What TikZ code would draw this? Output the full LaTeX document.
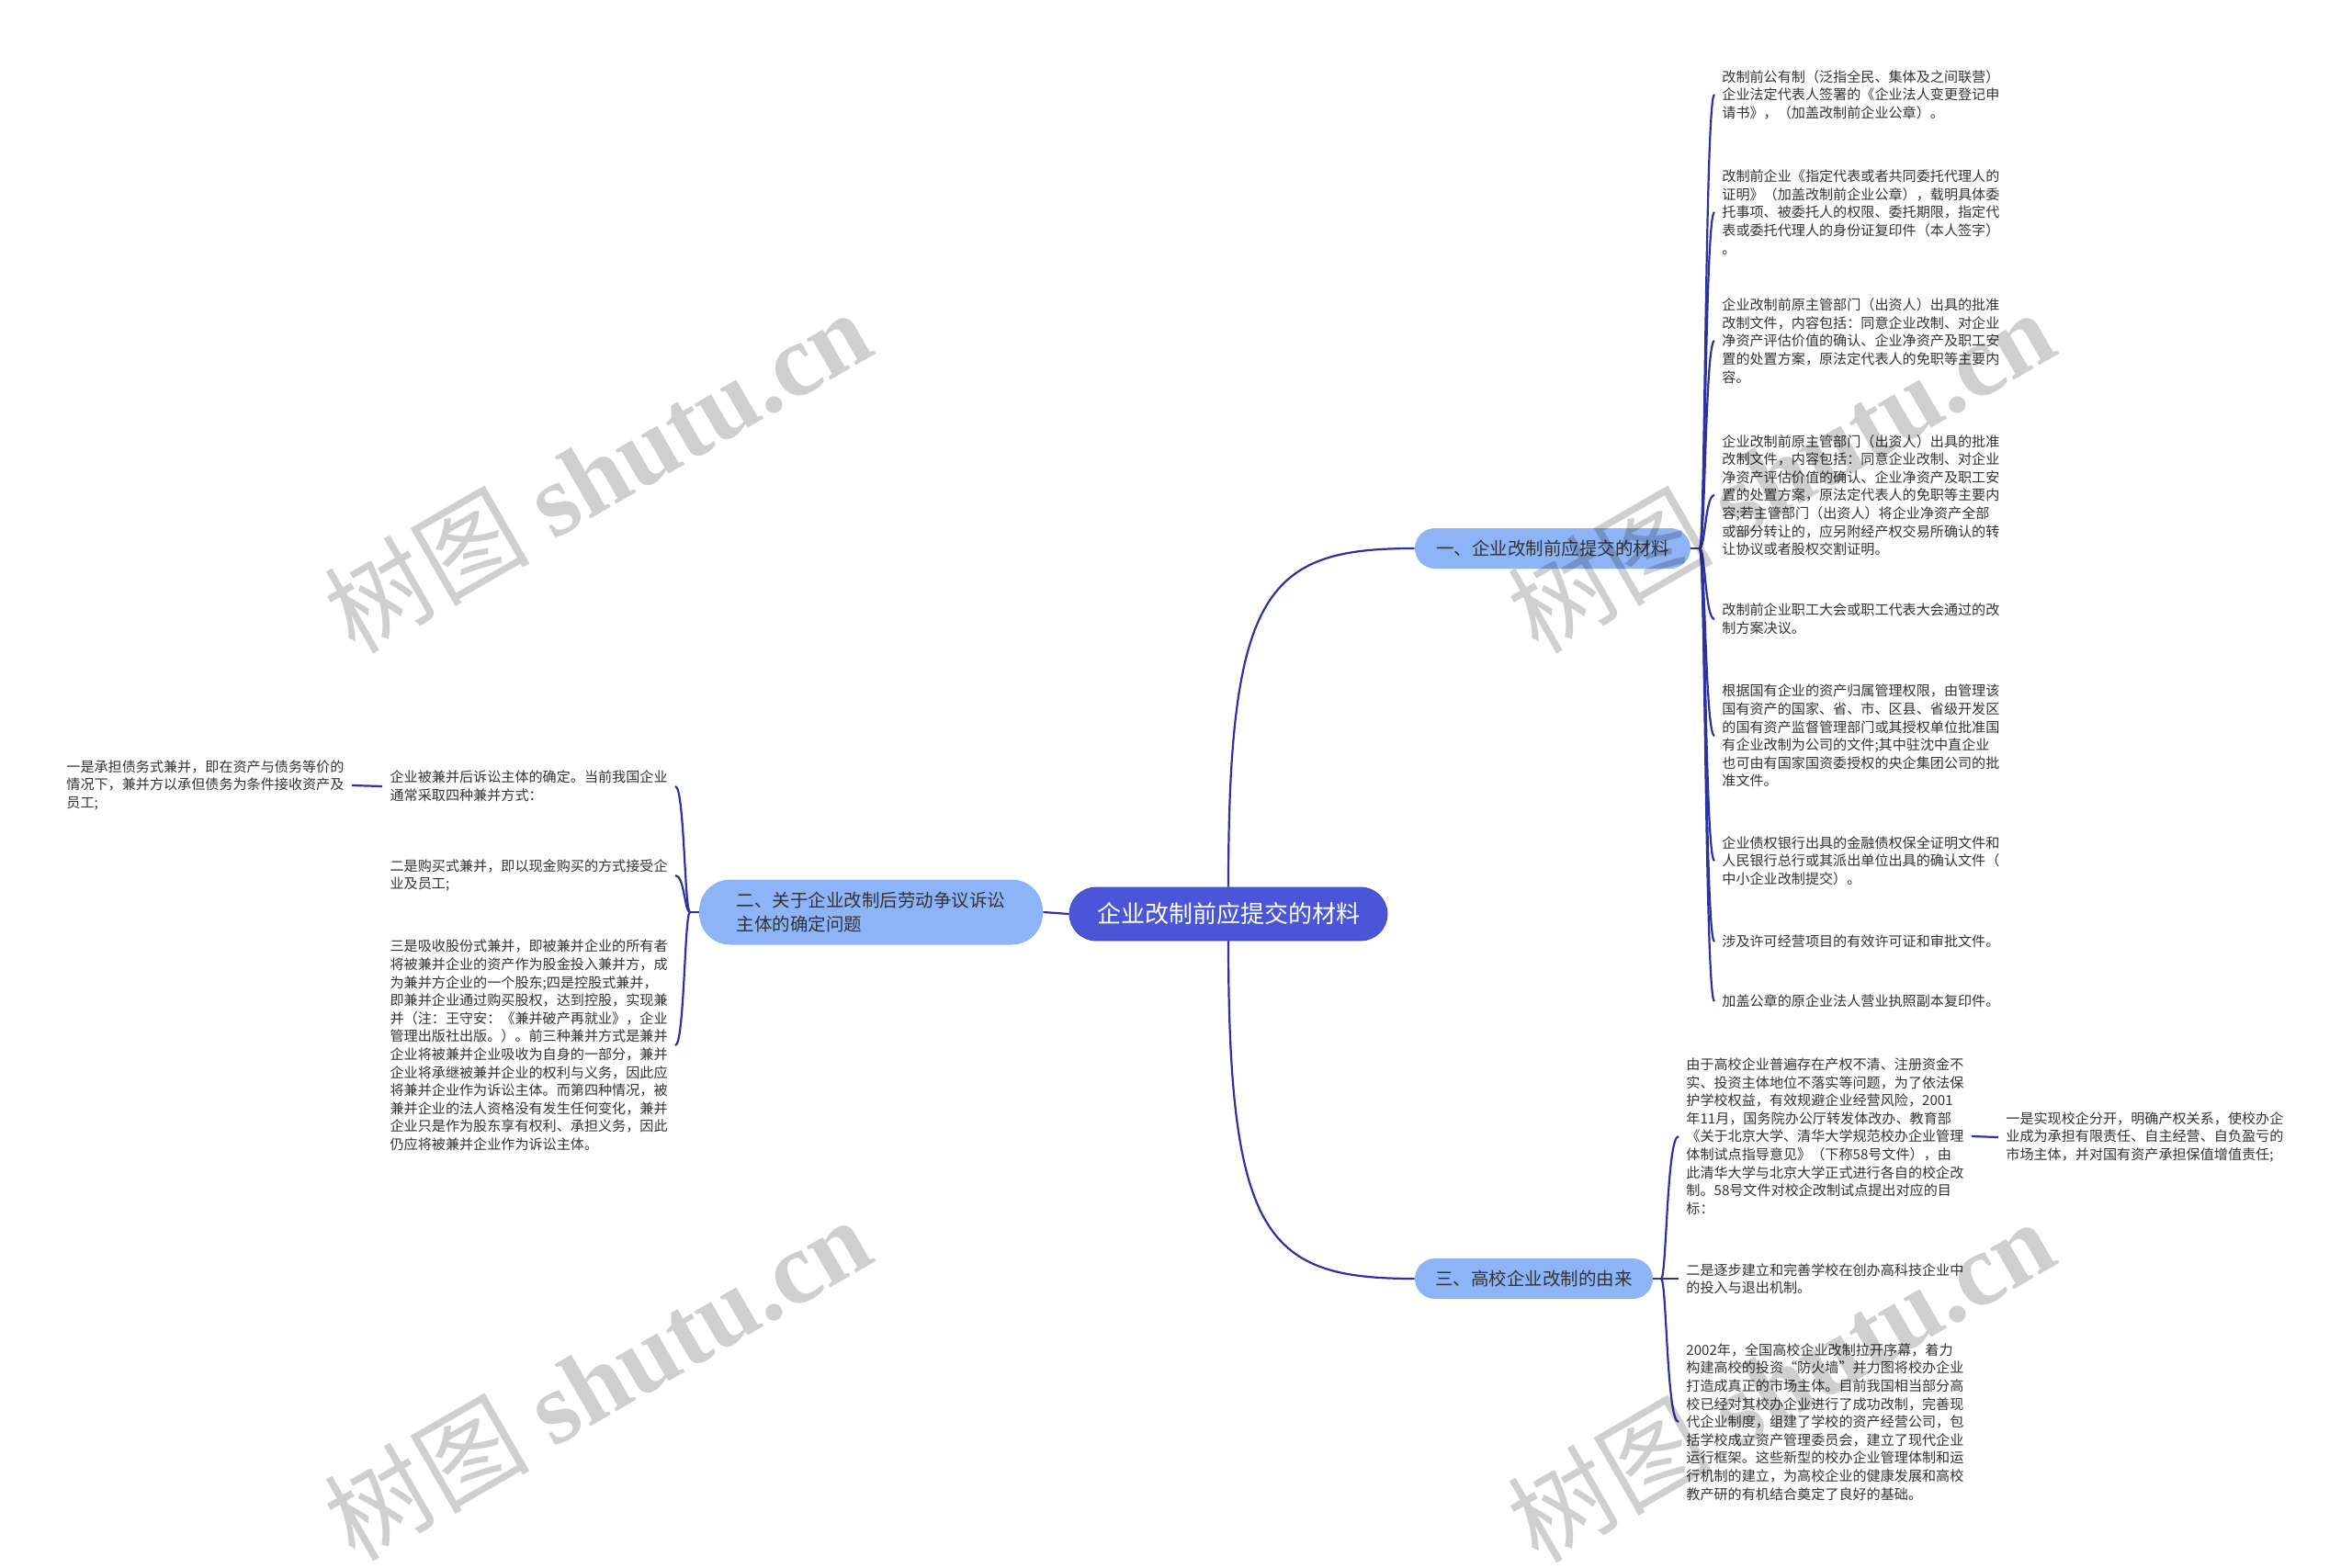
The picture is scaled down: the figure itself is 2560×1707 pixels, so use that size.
\documentclass[tikz,border=0pt]{standalone}
\usepackage{fontspec}
\setmainfont{Noto Sans CJK SC}
\newfontfamily\wmfont{Liberation Serif}
\usetikzlibrary{calc}
\definecolor{linec}{HTML}{2B339E}
\definecolor{rootc}{HTML}{4B55D7}
\definecolor{branchc}{HTML}{8DB4F6}
\definecolor{textc}{HTML}{333333}
\begin{document}
\begin{tikzpicture}[x=0.5pt,y=-0.5pt,
  conn/.style={draw=linec, line width=1.1pt},
  leaf/.style={align=left, inner xsep=4pt, inner ysep=0pt, text=textc, font=\fontsize{7.55}{9.8}\selectfont},
  branch/.style={fill=branchc, rounded corners=11pt, minimum height=22pt, inner sep=0pt, text=textc, font=\fontsize{9.75}{13}\selectfont},
  rootnode/.style={fill=rootc, draw=rootc!85!black, line width=0.4pt, rounded corners=14.5pt, minimum width=173pt, minimum height=29pt, inner sep=0pt, text=white, font=\fontsize{13}{16}\selectfont},
  wm/.style={rotate=30, text=black, text opacity=0.19, inner sep=0pt, font=\fontsize{56}{56}\selectfont}
]
\fill[white] (0,0) rectangle (2560,1707);
\useasboundingbox (0,0) rectangle (2560,1707);

% root and branches
\node[rootnode] (root) at (1337,995) {企业改制前应提交的材料};
\node[branch, minimum width=150pt] (b1) at (1690,597) {一、企业改制前应提交的材料};
\node[branch, minimum width=129.5pt] (b3) at (1669.5,1392) {三、高校企业改制的由来};
\node[branch, minimum width=187pt, minimum height=35.5pt, rounded corners=17pt, align=left] (b2) at (948,993) {二、关于企业改制后劳动争议诉讼\\主体的确定问题};

% branch 1 leaves
\node[leaf, anchor=west] (a1) at (1866,103) {改制前公有制（泛指全民、集体及之间联营）\\企业法定代表人签署的《企业法人变更登记申\\请书》，（加盖改制前企业公章）。};
\node[leaf, anchor=west] (a2) at (1866,231) {改制前企业《指定代表或者共同委托代理人的\\证明》（加盖改制前企业公章），载明具体委\\托事项、被委托人的权限、委托期限，指定代\\表或委托代理人的身份证复印件（本人签字）\\。};
\node[leaf, anchor=west] (a3) at (1866,371) {企业改制前原主管部门（出资人）出具的批准\\改制文件，内容包括：同意企业改制、对企业\\净资产评估价值的确认、企业净资产及职工安\\置的处置方案，原法定代表人的免职等主要内\\容。};
\node[leaf, anchor=west] (a4) at (1866,539) {企业改制前原主管部门（出资人）出具的批准\\改制文件，内容包括：同意企业改制、对企业\\净资产评估价值的确认、企业净资产及职工安\\置的处置方案，原法定代表人的免职等主要内\\容;若主管部门（出资人）将企业净资产全部\\或部分转让的，应另附经产权交易所确认的转\\让协议或者股权交割证明。};
\node[leaf, anchor=west] (a5) at (1866,674) {改制前企业职工大会或职工代表大会通过的改\\制方案决议。};
\node[leaf, anchor=west] (a6) at (1866,801) {根据国有企业的资产归属管理权限，由管理该\\国有资产的国家、省、市、区县、省级开发区\\的国有资产监督管理部门或其授权单位批准国\\有企业改制为公司的文件;其中驻沈中直企业\\也可由有国家国资委授权的央企集团公司的批\\准文件。};
\node[leaf, anchor=west] (a7) at (1866,937) {企业债权银行出具的金融债权保全证明文件和\\人民银行总行或其派出单位出具的确认文件（\\中小企业改制提交）。};
\node[leaf, anchor=west] (a8) at (1866,1025) {涉及许可经营项目的有效许可证和审批文件。};
\node[leaf, anchor=west] (a9) at (1866,1090) {加盖公章的原企业法人营业执照副本复印件。};

% branch 3 leaves
\node[leaf, anchor=west] (c1) at (1827,1237) {由于高校企业普遍存在产权不清、注册资金不\\实、投资主体地位不落实等问题，为了依法保\\护学校权益，有效规避企业经营风险，2001\\年11月，国务院办公厅转发体改办、教育部\\《关于北京大学、清华大学规范校办企业管理\\体制试点指导意见》（下称58号文件），由\\此清华大学与北京大学正式进行各自的校企改\\制。58号文件对校企改制试点提出对应的目\\标：};
\node[leaf, anchor=west] (g1) at (2175,1238) {一是实现校企分开，明确产权关系，使校办企\\业成为承担有限责任、自主经营、自负盈亏的\\市场主体，并对国有资产承担保值增值责任;};
\node[leaf, anchor=west] (c2) at (1827,1392) {二是逐步建立和完善学校在创办高科技企业中\\的投入与退出机制。};
\node[leaf, anchor=west] (c3) at (1827,1548) {2002年，全国高校企业改制拉开序幕，着力\\构建高校的投资“防火墙”并力图将校办企业\\打造成真正的市场主体。目前我国相当部分高\\校已经对其校办企业进行了成功改制，完善现\\代企业制度，组建了学校的资产经营公司，包\\括学校成立资产管理委员会，建立了现代企业\\运行框架。这些新型的校办企业管理体制和运\\行机制的建立，为高校企业的健康发展和高校\\教产研的有机结合奠定了良好的基础。};

% branch 2 leaves
\node[leaf, anchor=east] (d1) at (735,856) {企业被兼并后诉讼主体的确定。当前我国企业\\通常采取四种兼并方式：};
\node[leaf, anchor=west] (g2) at (64,855) {一是承担债务式兼并，即在资产与债务等价的\\情况下，兼并方以承但债务为条件接收资产及\\员工;};
\node[leaf, anchor=east] (d2) at (735,953) {二是购买式兼并，即以现金购买的方式接受企\\业及员工;};
\node[leaf, anchor=east] (d3) at (735,1138) {三是吸收股份式兼并，即被兼并企业的所有者\\将被兼并企业的资产作为股金投入兼并方，成\\为兼并方企业的一个股东;四是控股式兼并，\\即兼并企业通过购买股权，达到控股，实现兼\\并（注：王守安：《兼并破产再就业》，企业\\管理出版社出版。）。前三种兼并方式是兼并\\企业将被兼并企业吸收为自身的一部分，兼并\\企业将承继被兼并企业的权利与义务，因此应\\将兼并企业作为诉讼主体。而第四种情况，被\\兼并企业的法人资格没有发生任何变化，兼并\\企业只是作为股东享有权利、承担义务，因此\\仍应将被兼并企业作为诉讼主体。};

% connectors root
\draw[conn] (root.north) .. controls (1337,640) and (1380,597) .. (b1.west);
\draw[conn] (root.south) .. controls (1337,1350) and (1380,1392) .. (b3.west);
\draw[conn] (root.west) -- (b2.east);

% branch 1 connectors
\coordinate (j1) at (1850,597);
\draw[conn] (b1.east) -- (j1);
\foreach \n in {a1,a2,a3,a4,a5,a6,a7,a8,a9}
  \draw[conn] (j1) .. controls ($(j1)+(6,0)$) and ($(j1|-\n.west)+(6,0)$) .. (\n.west);

% branch 3 connectors
\coordinate (j3) at (1808,1392);
\draw[conn] (b3.east) -- (j3);
\foreach \n in {c1,c2,c3}
  \draw[conn] (j3) .. controls ($(j3)+(6,0)$) and ($(j3|-\n.west)+(6,0)$) .. (\n.west);
\draw[conn] (c1.east) -- (g1.west);

% branch 2 connectors
\coordinate (j2) at (751,993);
\draw[conn] (b2.west) -- (j2);
\foreach \n in {d1,d2,d3}
  \draw[conn] (j2) .. controls ($(j2)+(-6,0)$) and ($(j2|-\n.east)+(-6,0)$) .. (\n.east);
\draw[conn] (g2.east) -- (d1.west);

% watermarks
\node[wm] (w1) at (650,512) {树图 {\wmfont\bfseries shutu.cn}};
\node[wm] (w2) at (1938,512) {树图 {\wmfont\bfseries shutu.cn}};
\node[wm] (w3) at (650,1500) {树图 {\wmfont\bfseries shutu.cn}};
\node[wm] (w4) at (1938,1502) {树图 {\wmfont\bfseries shutu.cn}};
\end{tikzpicture}
\end{document}
